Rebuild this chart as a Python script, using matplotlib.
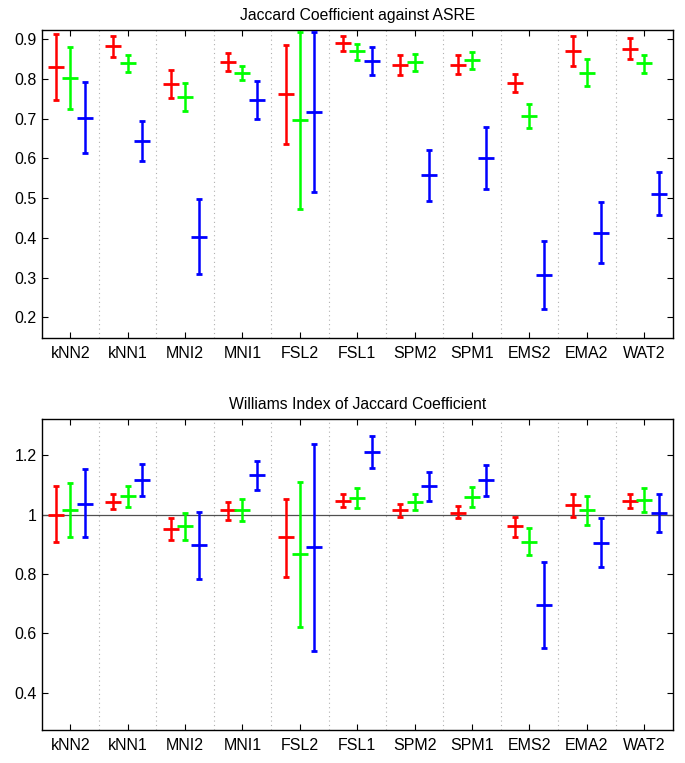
import numpy as np
import matplotlib
matplotlib.use("Agg")
import matplotlib.pyplot as plt

plt.rcParams['font.family'] = ['Liberation Sans', 'DejaVu Sans']

methods = ['kNN2', 'kNN1', 'MNI2', 'MNI1', 'FSL2', 'FSL1', 'SPM2', 'SPM1', 'EMS2', 'EMA2', 'WAT2']

# top panel: Jaccard coefficient against ASRE (mean, lower end, upper end)
jc_red_mean = [0.831, 0.883, 0.787, 0.843, 0.761, 0.889, 0.836, 0.836, 0.790, 0.870, 0.876]
jc_red_lo = [0.747, 0.855, 0.751, 0.819, 0.637, 0.869, 0.810, 0.812, 0.767, 0.832, 0.849]
jc_red_hi = [0.913, 0.908, 0.822, 0.866, 0.885, 0.907, 0.860, 0.860, 0.813, 0.908, 0.902]

jc_green_mean = [0.801, 0.840, 0.755, 0.816, 0.697, 0.869, 0.843, 0.848, 0.707, 0.815, 0.840]
jc_green_lo = [0.724, 0.817, 0.719, 0.796, 0.472, 0.848, 0.820, 0.825, 0.676, 0.781, 0.816]
jc_green_hi = [0.879, 0.861, 0.790, 0.833, 0.919, 0.887, 0.863, 0.868, 0.737, 0.850, 0.861]

jc_blue_mean = [0.702, 0.643, 0.403, 0.748, 0.717, 0.845, 0.557, 0.600, 0.306, 0.413, 0.511]
jc_blue_lo = [0.613, 0.594, 0.308, 0.699, 0.515, 0.809, 0.493, 0.523, 0.222, 0.337, 0.458]
jc_blue_hi = [0.791, 0.693, 0.497, 0.794, 0.919, 0.881, 0.620, 0.678, 0.392, 0.489, 0.566]

# bottom panel: Williams index of Jaccard coefficient
wi_red_mean = [1.000, 1.044, 0.950, 1.014, 0.923, 1.047, 1.015, 1.007, 0.960, 1.031, 1.047]
wi_red_lo = [0.909, 1.018, 0.913, 0.981, 0.791, 1.025, 0.991, 0.987, 0.926, 0.993, 1.023]
wi_red_hi = [1.095, 1.070, 0.987, 1.041, 1.054, 1.070, 1.036, 1.028, 0.991, 1.068, 1.070]

wi_green_mean = [1.017, 1.063, 0.963, 1.017, 0.868, 1.056, 1.043, 1.060, 0.908, 1.014, 1.050]
wi_green_lo = [0.925, 1.027, 0.916, 0.979, 0.623, 1.022, 1.014, 1.024, 0.863, 0.964, 1.008]
wi_green_hi = [1.105, 1.097, 1.007, 1.054, 1.111, 1.088, 1.068, 1.093, 0.954, 1.062, 1.088]

wi_blue_mean = [1.037, 1.116, 0.897, 1.134, 0.890, 1.212, 1.096, 1.115, 0.695, 0.906, 1.006]
wi_blue_lo = [0.923, 1.063, 0.784, 1.084, 0.541, 1.158, 1.047, 1.063, 0.552, 0.822, 0.941]
wi_blue_hi = [1.152, 1.169, 1.008, 1.182, 1.239, 1.266, 1.143, 1.166, 0.840, 0.990, 1.070]

fig = plt.figure(figsize=(6.85, 7.63), dpi=100)
ax1 = fig.add_axes([0.0606, 0.557, 0.9219, 0.4037])
ax2 = fig.add_axes([0.0606, 0.0433, 0.9219, 0.4076])

x = np.arange(1, len(methods) + 1)


def draw(ax, series, ylim, yticks, ylabels, title):
    for off, color, (m, lo, hi) in zip([-0.25, 0, 0.25], ['#ff0000', '#00ff00', '#0000ff'], series):
        m = np.array(m)
        err = [m - np.array(lo), np.array(hi) - m]
        ax.errorbar(x + off, m, yerr=err, fmt='_', color=color, ms=12, mew=2,
                    elinewidth=1.8, capsize=2.5, capthick=1.8, zorder=3)
    for s in np.arange(1.5, len(methods), 1):
        ax.axvline(s, color='#b0b0b0', ls=(0, (1, 3)), lw=0.8, zorder=1)
    ax.set_xlim(0.5, len(methods) + 0.5)
    ax.set_ylim(*ylim)
    ax.set_xticks(x)
    ax.set_xticklabels(methods)
    ax.set_yticks(yticks)
    ax.set_yticklabels(ylabels)
    ax.tick_params(direction='in', top=True, right=True, length=4.5, labelsize=11.5, width=0.8)
    ax.tick_params(axis='x', pad=6)
    for sp in ax.spines.values():
        sp.set_linewidth(1.0)
    ax.set_title(title, fontsize=11.3, pad=7)


draw(ax1,
     [(jc_red_mean, jc_red_lo, jc_red_hi),
      (jc_green_mean, jc_green_lo, jc_green_hi),
      (jc_blue_mean, jc_blue_lo, jc_blue_hi)],
     (0.148, 0.923), np.arange(0.2, 0.95, 0.1),
     ['0.2', '0.3', '0.4', '0.5', '0.6', '0.7', '0.8', '0.9'],
     'Jaccard Coefficient against ASRE')

draw(ax2,
     [(wi_red_mean, wi_red_lo, wi_red_hi),
      (wi_green_mean, wi_green_lo, wi_green_hi),
      (wi_blue_mean, wi_blue_lo, wi_blue_hi)],
     (0.275, 1.322), [0.4, 0.6, 0.8, 1.0, 1.2],
     ['0.4', '0.6', '0.8', '1', '1.2'],
     'Williams Index of Jaccard Coefficient')
ax2.axhline(1.0, color='#505050', lw=0.9, zorder=2)

fig.savefig('out.png', dpi=100)
